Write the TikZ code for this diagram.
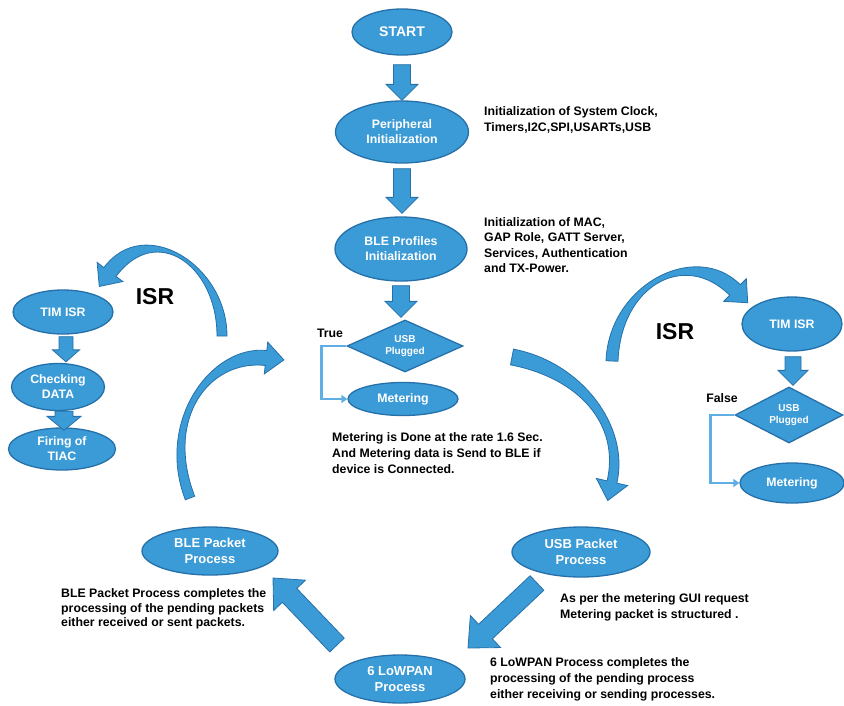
\documentclass[tikz,border=0pt]{standalone}
\usepackage{fontspec}
\setmainfont{Liberation Sans}
\usetikzlibrary{shapes.geometric,arrows.meta,calc}
\definecolor{fillc}{RGB}{59,155,214}
\definecolor{bordc}{RGB}{38,112,170}
\definecolor{linec}{RGB}{95,175,228}
% #1 from, #2 to, #3 half shaft width, #4 half head width, #5 head length
\newcommand{\blockarr}[5]{%
  \coordinate (bacA) at (#1);
  \coordinate (bacB) at (#2);
  \coordinate (bacC) at ($(bacB)!#5!(bacA)$);
  \draw[blockarrow] ($(bacA)!#3!90:(bacB)$) -- ($(bacC)!#3!90:(bacB)$) -- ($(bacC)!#4!90:(bacB)$)
    -- (bacB) -- ($(bacC)!#4!-90:(bacB)$) -- ($(bacC)!#3!-90:(bacB)$) -- ($(bacA)!#3!-90:(bacB)$) -- cycle;
}
% tapered curved block arrow: #1 tail, #2 #3 controls, #4 head base,
% #5 half width at tail, #6 half width at head base, #7 half head width, #8 head length
\newcommand{\curvarr}[8]{%
  \coordinate (cqA) at (#1);
  \coordinate (cqB) at (#2);
  \coordinate (cqC) at (#3);
  \coordinate (cqD) at (#4);
  \coordinate (cqAp) at ($(cqA)!#5!90:(cqB)$);
  \coordinate (cqAm) at ($(cqA)!#5!-90:(cqB)$);
  \coordinate (cqDp) at ($(cqD)!#6!-90:(cqC)$);
  \coordinate (cqDm) at ($(cqD)!#6!90:(cqC)$);
  \coordinate (cqBp) at ($(cqB)+(cqAp)-(cqA)$);
  \coordinate (cqBm) at ($(cqB)+(cqAm)-(cqA)$);
  \coordinate (cqCp) at ($(cqC)+(cqDp)-(cqD)$);
  \coordinate (cqCm) at ($(cqC)+(cqDm)-(cqD)$);
  \coordinate (cqHp) at ($(cqD)!#7!-90:(cqC)$);
  \coordinate (cqHm) at ($(cqD)!#7!90:(cqC)$);
  \coordinate (cqT) at ($(cqD)!-#8!(cqC)$);
  \draw[blockarrow] (cqAp) .. controls (cqBp) and (cqCp) .. (cqDp) -- (cqHp) -- (cqT) -- (cqHm)
    -- (cqDm) .. controls (cqCm) and (cqBm) .. (cqAm) -- cycle;
}
\begin{document}
\begin{tikzpicture}[x=1pt,y=-1pt,
  proc/.style={ellipse, draw=bordc, line width=1.3pt, fill=fillc, text=white, inner sep=0pt,
    align=center, font=\fontsize{12.3}{15}\selectfont\bfseries},
  dec/.style={diamond, aspect=2.2, draw=bordc, line width=1.3pt, fill=fillc, text=white, inner sep=0pt,
    align=center, font=\fontsize{10}{12}\selectfont\bfseries},
  note/.style={anchor=west, align=left, inner sep=0pt, font=\fontsize{12.3}{16}\selectfont\bfseries},
  lbl/.style={inner sep=0pt, font=\fontsize{12.3}{15}\selectfont\bfseries},
  isr/.style={inner sep=0pt, font=\fontsize{23}{26}\selectfont\bfseries},
  blockarrow/.style={fill=fillc, draw=bordc, line width=0.8pt, line join=miter},
  conn/.style={draw=linec, line width=2.5pt, -{Triangle[width=8pt,length=6pt]}}
]
\useasboundingbox (0,0) rectangle (844,705);

% main column
\node[proc, minimum width=100pt, minimum height=46pt, font=\fontsize{14}{16}\selectfont\bfseries] (start) at (402,32) {START};
\node[proc, minimum width=133pt, minimum height=62pt] (peri) at (402,132) {Peripheral\\Initialization};
\node[proc, minimum width=132pt, minimum height=64pt] (blep) at (401,249) {BLE Profiles\\Initialization};
\node[dec, minimum width=116pt, minimum height=52pt] (usb1) at (405,346) {USB\\Plugged};
\node[proc, minimum width=110pt, minimum height=33pt] (met1) at (403,399) {Metering};

% left column
\node[proc, minimum width=100pt, minimum height=44pt] (tim1) at (63,312) {TIM ISR};
\node[proc, minimum width=93pt, minimum height=47pt] (chk) at (58,387) {Checking\\DATA};
\node[proc, minimum width=107pt, minimum height=42pt] (fire) at (62,449) {Firing of\\TIAC};

% right column
\node[proc, minimum width=100pt, minimum height=54pt] (tim2) at (792,324) {TIM ISR};
\node[dec, minimum width=108pt, minimum height=56pt] (usb2) at (789,415) {USB\\Plugged};
\node[proc, minimum width=104pt, minimum height=40pt] (met2) at (792,483) {Metering};

% bottom cycle
\node[proc, minimum width=136pt, minimum height=48pt, font=\fontsize{13}{16}\selectfont\bfseries] (blepk) at (210,551) {BLE Packet\\Process};
\node[proc, minimum width=138pt, minimum height=50pt, font=\fontsize{13}{16}\selectfont\bfseries] (usbpk) at (581,552) {USB Packet\\Process};
\node[proc, minimum width=130pt, minimum height=48pt, font=\fontsize{13}{16}\selectfont\bfseries] (low) at (400,679) {6 LoWPAN\\Process};

% labels
\node[lbl] (ltrue) at (330,333) {True};
\node[lbl] (lfalse) at (722,398) {False};
\node[isr] (isr1) at (155,297) {ISR};
\node[isr] (isr2) at (675,332) {ISR};

% notes
\node[note] (n1) at (484,120) {Initialization of System Clock,\\Timers,I2C,SPI,USARTs,USB};
\node[note, font=\fontsize{12.3}{15.3}\selectfont\bfseries] (n2) at (484,245) {Initialization of MAC,\\GAP Role, GATT Server,\\Services, Authentication\\and TX-Power.};
\node[note] (n3) at (332,453) {Metering is Done at the rate 1.6 Sec.\\And Metering data is Send to BLE if\\device is Connected.};
\node[note, font=\fontsize{12.3}{14.5}\selectfont\bfseries] (n4) at (61,609) {BLE Packet Process completes the\\processing of the pending packets\\either received or sent packets.};
\node[note] (n5) at (560,607) {As per the metering GUI request\\Metering packet is structured .};
\node[note] (n6) at (490,679) {6 LoWPAN Process completes the\\processing of the pending process\\either receiving or sending processes.};

% straight block arrows
\blockarr{$(start.south)+(0,9)$}{peri.north}{8.5pt}{16pt}{16pt}
\blockarr{$(peri.south)+(0,5)$}{$(blep.north -| peri.south)+(0,-3)$}{8.5pt}{16pt}{16pt}
\blockarr{$(blep.south)+(0,4)$}{$(usb1.north -| blep.south)+(0,-2)$}{8.5pt}{16pt}{16pt}
\blockarr{$(tim1.south)+(3,2)$}{$(chk.north -| tim1.south)+(3,-1)$}{7pt}{13.5pt}{12pt}
\blockarr{$(chk.south)+(6,0)$}{$(fire.north -| chk.south)+(6,3)$}{9pt}{17pt}{14pt}
\blockarr{$(tim2.south)+(1,5)$}{$(usb2.north -| tim2.south)+(1,-1)$}{8pt}{15pt}{15pt}
\blockarr{$(usbpk.center)+(-44,31)$}{$(low.center)+(68,-31)$}{10pt}{22pt}{24pt}
\blockarr{$(low.center)+(-63,-34)$}{$(blepk.center)+(63,27)$}{10pt}{22pt}{24pt}

% decision connectors
\draw[conn] (usb1.west) -- ++(-25,0) |- (met1.west);
\draw[conn] (usb2.west) -- ++(-24,0) |- (met2.west);

% curved arrows
\coordinate (la) at (222,336);
\coordinate (ra) at (612,361);
\coordinate (lb) at (190,498);
\coordinate (rb) at (512,357);
\curvarr{la}{222,265}{150,218}{$(tim1.center)+(47,-40)$}{5pt}{7.5pt}{16pt}{18pt}
\curvarr{ra}{615,285}{690,245}{$(tim2.center)+(-57,-34)$}{6pt}{7.5pt}{16pt}{18pt}
\curvarr{lb}{160,420}{210,352}{266,358}{5pt}{7.5pt}{16pt}{18pt}
\curvarr{rb}{580,370}{625,425}{612,482}{8pt}{5pt}{16pt}{19pt}
\end{tikzpicture}
\end{document}
